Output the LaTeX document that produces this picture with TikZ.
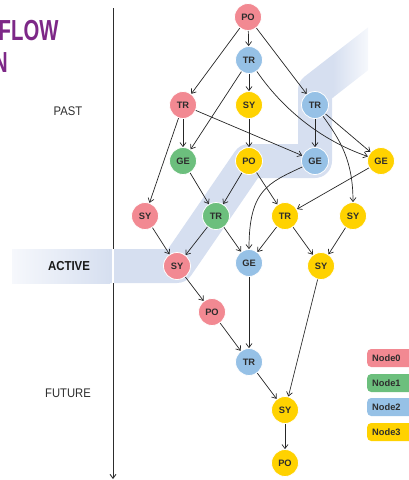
\documentclass[tikz,border=0pt]{standalone}
\usepackage{fontspec}
\setmainfont{Liberation Sans}
\newfontfamily\condfont[FakeStretch=0.9]{Liberation Sans}
\newfontfamily\actfont[FakeStretch=0.88]{Liberation Sans}
\newfontfamily\titlefont[FakeStretch=0.7]{Liberation Sans}
\usetikzlibrary{arrows.meta}
\definecolor{cred}{RGB}{242,137,146}
\definecolor{cgreen}{RGB}{108,191,125}
\definecolor{cblue}{RGB}{150,193,230}
\definecolor{cyellow}{RGB}{255,210,0}
\definecolor{cband}{RGB}{214,223,240}
\definecolor{cbandlight}{RGB}{246,248,252}
\definecolor{cpurple}{RGB}{125,40,135}
\definecolor{ctext}{RGB}{45,45,45}
\begin{document}
\begin{tikzpicture}[x=1pt,y=-1pt,
  nd/.style={circle, minimum size=27pt, inner sep=0pt, draw=white, line width=0.8pt,
    font=\bfseries\fontsize{9.3}{9.3}\selectfont, text=ctext},
  rd/.style={nd, fill=cred},
  gd/.style={nd, fill=cgreen},
  bd/.style={nd, fill=cblue},
  yd/.style={nd, fill=cyellow},
  edge/.style={line width=0.7pt, draw=black!85, -{Straight Barb[length=4pt,width=6pt]}},
  leg/.style={anchor=west, rounded corners=4pt, minimum height=18pt, inner ysep=0pt,
    inner xsep=5pt, text width=36pt, align=left, font=\bfseries\fontsize{9.3}{9.3}\selectfont, text=ctext},
  lbl/.style={font=\condfont\fontsize{12.5}{12.5}\selectfont, text=ctext},
  bandline/.style={line width=34pt, line join=round}
]
\useasboundingbox (0,0) rectangle (409,480);
\clip (0,0) rectangle (409,480);

% band: solid middle part
\begin{scope}
\clip (109.5,0) rectangle (333.5,480);
\draw[bandline, cband] (12,266) -- (177,266) -- (249,161) -- (315,161) -- (315,90) -- (400,24);
\end{scope}
% left fading end
\shade[left color=cbandlight, right color=cband] (12,249) rectangle (110,283);
% right fading end
\shade[left color=cband, right color=cbandlight] (333,54.6) -- (368,27.4) -- (368,70.3) -- (333,97.5) -- cycle;
\draw[white, line width=1.2pt] (113,249) -- (113,283);

% axis
\coordinate (ax0) at (113,8);
\coordinate (ax1) at (113,249);
\coordinate (ax2) at (113,283);
\coordinate (ax3) at (113,479);
\draw[line width=0.9pt, ctext] (ax0) -- (ax1);
\draw[line width=0.9pt, ctext, -{Straight Barb[length=4pt,width=6pt]}] (ax2) -- (ax3);

% labels
\node[anchor=base west, inner sep=0pt, font=\titlefont\bfseries\fontsize{29}{29}\selectfont, text=cpurple] (t1) at (-1.5,40) {FLOW};
\node[anchor=base east, inner sep=0pt, font=\titlefont\bfseries\fontsize{29}{29}\selectfont, text=cpurple] (t2) at (8,72) {N};
\node[lbl] (past) at (68,111) {PAST};
\node[lbl] (future) at (68,393) {FUTURE};
\node[font=\actfont\bfseries\fontsize{13}{13}\selectfont, text=black!90] (active) at (69,266) {ACTIVE};

% nodes
\node[rd] (po0) at (248,17) {PO};
\node[bd] (tr1) at (249,60) {TR};
\node[rd] (tr2) at (183,105) {TR};
\node[yd] (sy1) at (249,105) {SY};
\node[bd] (tr3) at (315,105) {TR};
\node[gd] (ge1) at (183,161) {GE};
\node[yd] (po1) at (249,161) {PO};
\node[bd] (ge2) at (315,161) {GE};
\node[yd] (ge3) at (381,161) {GE};
\node[rd] (sy2) at (145,216) {SY};
\node[gd] (tr4) at (216,216) {TR};
\node[yd] (tr5) at (285,216) {TR};
\node[yd] (sy3) at (353,216) {SY};
\node[rd] (sy4) at (177,266) {SY};
\node[bd] (ge4) at (249,263) {GE};
\node[yd] (sy5) at (321,266) {SY};
\node[rd] (po2) at (212,312) {PO};
\node[bd] (tr6) at (249,362) {TR};
\node[yd] (sy6) at (285,410) {SY};
\node[yd] (po3) at (285,463) {PO};

% edges
\draw[edge] (po0) -- (tr1);
\draw[edge] (po0) -- (tr2);
\draw[edge] (po0) -- (tr3);
\draw[edge] (tr1) -- (sy1);
\draw[edge] (tr1) -- (ge1);
\draw[edge] (tr1) .. controls (282,108) and (320,140) .. (ge3);
\draw[edge] (tr2) -- (ge2);
\draw[edge] (tr2) -- (ge1);
\draw[edge] (tr2) -- (sy2);
\draw[edge] (sy1) -- (po1);
\draw[edge] (tr3) -- (ge2);
\draw[edge] (tr3) -- (ge3);
\draw[edge] (tr3) .. controls (340,140) and (353,160) .. (sy3);
\draw[edge] (ge1) -- (tr4);
\draw[edge] (po1) -- (tr4);
\draw[edge] (po1) -- (tr5);
\draw[edge] (ge2) .. controls (268,183) and (249,190) .. (ge4);
\draw[edge] (ge3) -- (tr5);
\draw[edge] (sy2) -- (sy4);
\draw[edge] (tr4) -- (sy4);
\draw[edge] (tr4) -- (ge4);
\draw[edge] (tr5) -- (ge4);
\draw[edge] (tr5) -- (sy5);
\draw[edge] (sy3) -- (sy5);
\draw[edge] (sy4) -- (po2);
\draw[edge] (ge4) -- (tr6);
\draw[edge] (po2) -- (tr6);
\draw[edge] (tr6) -- (sy6);
\draw[edge] (sy5) -- (sy6);
\draw[edge] (sy6) -- (po3);

% legend
\node[leg, fill=cred] (l0) at (367,358) {Node0};
\node[leg, fill=cgreen] (l1) at (367,383) {Node1};
\node[leg, fill=cblue] (l2) at (367,407) {Node2};
\node[leg, fill=cyellow] (l3) at (367,432) {Node3};
\end{tikzpicture}
\end{document}
